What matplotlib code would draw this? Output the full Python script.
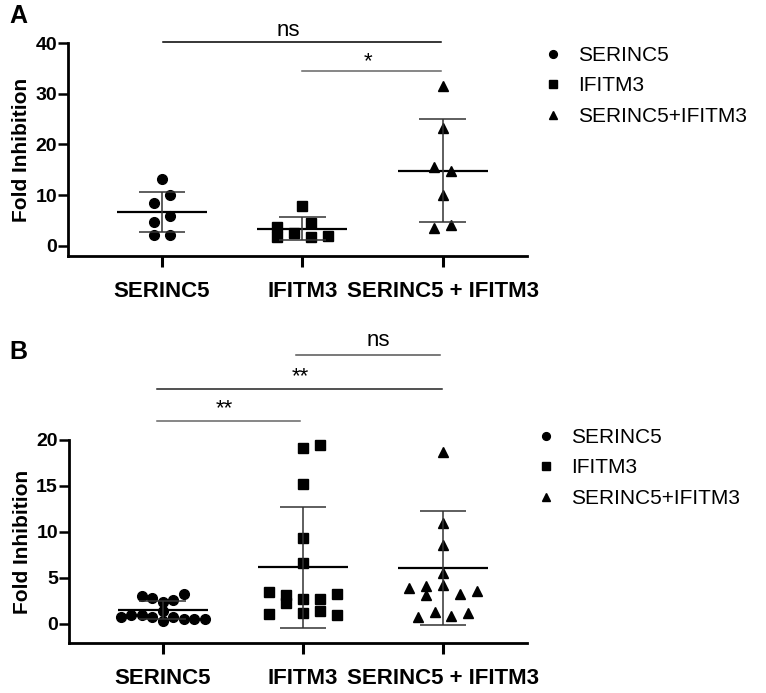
import matplotlib.pyplot as plt

plt.rcParams['font.family'] = ['Liberation Sans', 'DejaVu Sans']

groups = ['SERINC5', 'IFITM3', 'SERINC5 + IFITM3']
legend_names = ['SERINC5', 'IFITM3', 'SERINC5+IFITM3']
markers = ['o', 's', '^']

# panel A
a_serinc5 = [13.1, 10.0, 8.5, 5.8, 4.8, 2.2, 2.2]
a_ifitm3 = [7.9, 3.8, 4.5, 2.5, 1.7, 1.7, 2.0]
a_combo = [31.6, 23.3, 15.6, 14.8, 10.0, 3.5, 4.1]
a_mean = [6.7, 3.4, 14.8]
a_sd = [4.0, 2.2, 10.15]

# panel B
b_serinc5 = [3.04, 2.79, 2.36, 2.61, 3.26, 0.72, 0.94, 0.94, 0.80, 1.45, 0.36, 0.72, 0.58, 0.58, 0.51]
b_ifitm3 = [19.16, 19.5, 15.2, 9.3, 6.6, 3.45, 3.15, 2.25, 2.7, 2.7, 3.3, 1.09, 1.23, 1.45, 0.98]
b_combo = [18.66, 11.0, 8.6, 5.5, 4.24, 3.95, 4.13, 3.15, 3.26, 3.59, 0.8, 1.34, 0.9, 1.16]
b_mean = [1.52, 6.15, 6.1]
b_sd = [1.0, 6.55, 6.2]

# horizontal scatter of the points (category units)
a_serinc5_dx = [0, 0.06, -0.06, 0.06, -0.06, -0.06, 0.06]
a_ifitm3_dx = [0, -0.18, 0.06, -0.06, -0.18, 0.06, 0.18]
a_combo_dx = [0, 0, -0.06, 0.06, 0, -0.06, 0.06]
b_serinc5_dx = [-0.15, -0.075, 0, 0.075, 0.15, -0.3, -0.225, -0.15, -0.075, 0, 0, 0.075, 0.15, 0.225, 0.3]
b_ifitm3_dx = [0, 0.12, 0, 0, 0, -0.24, -0.12, -0.12, 0, 0.12, 0.24, -0.24, 0, 0.12, 0.24]
b_combo_dx = [0, 0, 0, 0, 0, -0.24, -0.12, -0.12, 0.12, 0.24, -0.18, -0.06, 0.06, 0.18]

# significance bars: (x1, x2, y, label, text x, text y, colour)
a_sig = [(0.01, 1.99, 40.1, 'ns', 0.9, 42.5, 'black'),
         (1.0, 1.99, 34.5, '*', 1.47, 36.3, '#666666')]
b_sig = [(0.95, 1.98, 29.2, 'ns', 1.54, 30.8, '#555555'),
         (-0.04, 1.99, 25.5, '**', 0.98, 26.9, '#222222'),
         (-0.04, 0.98, 22.1, '**', 0.44, 23.4, '#666666')]

fig = plt.figure(figsize=(7.66, 6.93), dpi=100)


def panel(rect, vals, dxs, mean, sd, ylim, yticks, sig, letter, letter_y, leg_anchor):
    ax = fig.add_axes(rect)
    for i in range(3):
        xs = [i + d for d in dxs[i]]
        ax.plot(xs, vals[i], linestyle='none', marker=markers[i], color='black',
                markersize=7 if i != 1 else 6.5, label=legend_names[i], clip_on=False)
        ax.hlines(mean[i], i - 0.32, i + 0.32, color='black', lw=1.6)
        ax.vlines(i, mean[i] - sd[i], mean[i] + sd[i], color='#333333', lw=1.1)
        ax.hlines([mean[i] - sd[i], mean[i] + sd[i]], i - 0.167, i + 0.167, color='#333333', lw=1.1)
    ax.set_xlim(-0.67, 2.6)
    ax.set_ylim(*ylim)
    ax.set_yticks(yticks)
    ax.set_xticks(range(3))
    ax.set_xticklabels(groups, fontsize=16, fontweight='bold')
    for t in ax.get_yticklabels():
        t.set_fontsize(14)
        t.set_fontweight('bold')
    ax.tick_params(axis='y', length=7, width=1.8, pad=1)
    ax.tick_params(axis='x', length=8, width=2.2, pad=10)
    for s in ['top', 'right']:
        ax.spines[s].set_visible(False)
    for s in ['left', 'bottom']:
        ax.spines[s].set_linewidth(2)
    ax.set_ylabel('Fold Inhibition', fontsize=15, fontweight='bold', labelpad=3)
    for x1, x2, y, lab, tx, ty, c in sig:
        ax.plot([x1, x2], [y, y], color=c, lw=1.1, clip_on=False)
        ax.text(tx, ty, lab, ha='center', va='center', fontsize=16, clip_on=False)
    fig.text(0.012, letter_y, letter, fontsize=18, fontweight='bold',
             ha='left', va='center')
    ax.legend(loc='upper left', bbox_to_anchor=leg_anchor, bbox_transform=fig.transFigure,
              frameon=False, fontsize=15, markerscale=0.8, handlelength=0.8,
              handletextpad=0.8, labelspacing=0.55, borderpad=0, borderaxespad=0)
    return ax


panel([68 / 766, 1 - 256 / 693, 459 / 766, 213 / 693],
      [a_serinc5, a_ifitm3, a_combo], [a_serinc5_dx, a_ifitm3_dx, a_combo_dx],
      a_mean, a_sd, (-2, 40), [0, 10, 20, 30, 40], a_sig, 'A', 1 - 16 / 693,
      (545 / 766, 1 - 46 / 693))
panel([69 / 766, 1 - 643 / 693, 458 / 766, 203 / 693],
      [b_serinc5, b_ifitm3, b_combo], [b_serinc5_dx, b_ifitm3_dx, b_combo_dx],
      b_mean, b_sd, (-2.07, 20), [0, 5, 10, 15, 20], b_sig, 'B', 1 - 352 / 693,
      (538 / 766, 1 - 428 / 693))

fig.savefig('out.png', dpi=100)
